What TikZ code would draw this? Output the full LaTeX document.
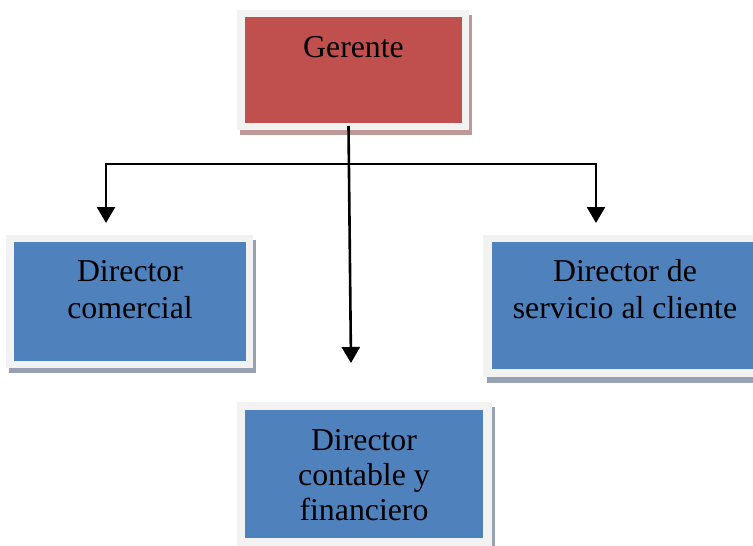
\documentclass[tikz,border=0pt]{standalone}
\usepackage{fontspec}
\setmainfont{Liberation Serif}
\usetikzlibrary{arrows.meta}
\definecolor{gred}{HTML}{C0504D}
\definecolor{gblue}{HTML}{4F81BD}
\definecolor{frame}{HTML}{F2F2F2}
\definecolor{rshadow}{RGB}{190,152,152}
\definecolor{bshadow}{RGB}{150,162,180}
\tikzset{
  inner/.style={draw=none, inner sep=0pt, outer sep=0pt},
  lbl/.style={inner sep=0pt, font=\fontsize{31.8}{37}\selectfont, align=center},
  conn/.style={line width=2.6pt, draw=black, line join=miter,
    -{Triangle[width=18pt,length=16pt]}},
}
\begin{document}
\begin{tikzpicture}[x=1pt,y=-1pt]
\useasboundingbox (0,0) rectangle (753,546);
% Gerente
\fill[rshadow] (240,15) rectangle (472,135);
\fill[frame] (237,10) rectangle (469,130);
\node[inner, fill=gred, minimum width=217pt, minimum height=106pt] (g) at (353.5,70) {};
\node[lbl, anchor=base] (gt) at (353.5,57) {Gerente};
% Director comercial
\fill[bshadow] (9,240) rectangle (256,373);
\fill[frame] (6,235) rectangle (253,368);
\node[inner, fill=gblue, minimum width=232pt, minimum height=119pt] (dc) at (130,301.5) {};
\node[lbl, anchor=base] (dct) at (130,318) {Director\\comercial};
% Director de servicio al cliente
\fill[bshadow] (487,241) rectangle (771,383);
\fill[frame] (483,235) rectangle (767,377);
\node[inner, fill=gblue, minimum width=266pt, minimum height=127pt] (ds) at (625,305.5) {};
\node[lbl, anchor=base] (dst) at (625,318) {Director de\\servicio al cliente};
% Director contable y financiero
\fill[bshadow] (240,407) rectangle (495,551);
\fill[frame] (237,402) rectangle (492,546);
\node[inner, fill=gblue, minimum width=238pt, minimum height=128pt] (dk) at (364,474) {};
\node[lbl, anchor=base, font=\fontsize{31.8}{35}\selectfont] (dkt) at (364,520) {Director\\contable y\\financiero};
% connectors
\coordinate (s) at (348.5,126);
\coordinate (j) at (349,164);
\coordinate (tl) at (106,223);
\coordinate (tr) at (596,223);
\coordinate (tc) at (351,363);
\draw[conn] (s) -- (tc);
\draw[conn] (j) -| (tl);
\draw[conn] (j) -| (tr);
\end{tikzpicture}
\end{document}
